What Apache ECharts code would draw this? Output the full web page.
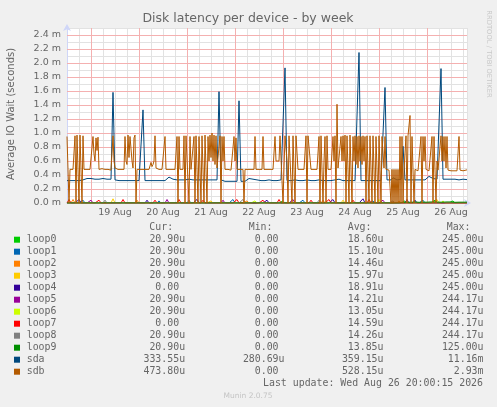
<!DOCTYPE html>
<html>
<head>
<meta charset="utf-8">
<title>Disk latency per device - by week</title>
<script src="https://cdn.jsdelivr.net/npm/echarts@6/dist/echarts.min.js"></script>
<style>
  html, body { margin: 0; padding: 0; background: #f0f0f0; }
  #chart { width: 497px; height: 407px; }
</style>
</head>
<body>
<div id="chart"></div>
<script>
// x axis: hours since 18 Aug 00:00
const startHour = 12;
const endHour = 212;
const dayLabels = ['19 Aug', '20 Aug', '21 Aug', '22 Aug', '23 Aug', '24 Aug', '25 Aug', '26 Aug'];
const dayLabelHours = [36, 60, 84, 108, 132, 156, 180, 204];
const dayStartHours = [24, 48, 72, 96, 120, 144, 168, 192];
const majorYTicks = [0.2, 0.4, 0.6, 0.8, 1.0, 1.2, 1.4, 1.6, 1.8, 2.0, 2.2, 2.4];

// values in milliseconds; sda one sample per hour
const sdaStep = 1;
const sda = [
  0.32, 0.32, 0.32, 0.32, 0.32, 0.32, 0.32, 0.32, 0.33, 0.35,
  0.35, 0.34, 0.35, 0.34, 0.34, 0.35, 0.34, 0.34, 0.35, 0.34,
  0.34, 0.33, 0.34, 1.58, 0.33, 0.32, 0.32, 0.33, 0.32, 0.32,
  0.32, 0.33, 0.32, 0.32, 0.32, 0.33, 0.32, 0.32, 1.33, 0.32,
  0.32, 0.32, 0.33, 0.32, 0.32, 0.32, 0.31, 0.32, 0.32, 0.32,
  0.33, 0.37, 0.36, 0.34, 0.33, 0.33, 0.34, 0.33, 0.33, 0.33,
  0.33, 0.34, 0.33, 0.33, 0.33, 0.33, 0.34, 0.33, 0.33, 0.33,
  0.33, 0.33, 0.33, 0.33, 0.33, 0.33, 1.59, 0.33, 0.31, 0.31,
  0.31, 0.31, 0.31, 0.31, 0.32, 0.31, 1.46, 0.31, 0.31, 0.31,
  0.31, 0.35, 0.34, 0.34, 0.33, 0.33, 0.32, 0.32, 0.33, 0.32,
  0.32, 0.33, 0.32, 0.32, 0.33, 0.32, 0.32, 0.33, 0.32, 1.93,
  0.32, 0.33, 0.32, 0.32, 0.33, 0.32, 0.32, 0.33, 0.32, 0.32,
  0.33, 0.32, 0.32, 0.33, 0.32, 0.32, 0.33, 0.32, 0.32, 0.33,
  0.32, 0.33, 0.32, 0.32, 0.33, 0.35, 0.34, 0.33, 0.32, 0.33,
  0.32, 0.33, 0.32, 0.33, 0.32, 0.33, 2.15, 0.32, 0.33, 0.32,
  0.33, 0.32, 0.33, 0.32, 0.33, 0.32, 0.33, 0.32, 0.33, 1.65,
  0.33, 0.32, 0.33, 0.36, 0.35, 0.33, 0.33, 0.34, 0.81, 0.33,
  0.33, 0.33, 0.34, 0.33, 0.33, 0.33, 0.34, 0.33, 0.33, 0.33,
  0.34, 0.38, 0.37, 0.35, 0.34, 0.34, 0.34, 1.92, 0.34, 0.34,
  0.34, 0.34, 0.34, 0.34, 0.34, 0.34, 0.33, 0.34, 0.34, 0.33,
  0.334
];

// sdb one sample per half hour (each line = 10 hours)
const sdbStep = 0.5;
const sdb = [
  0.95, 0.95, 0, 0.48, 0.48, 0.48, 0.48, 0.48, 0.96, 0, 0.97, 0.96, 0, 0.97, 0.96, 0, 0.96, 0.48, 0.48, 0.48,
  0.48, 0.47, 0.47, 0.48, 0.48, 0.48, 0.95, 0.7, 0.6, 0.93, 0.75, 0.94, 0.48, 0.48, 0.48, 0.49, 0.49, 0.48, 0.48, 0.48,
  0.48, 0.48, 0.48, 0.47, 0.47, 0.48, 0.96, 0.6, 0.5, 0.48, 0.48, 0.48, 0.48, 0.49, 0.48, 0.48, 0.49, 0.48, 0.95, 0.6,
  0.55, 0.97, 0.65, 0.95, 0.93, 0.6, 0.5, 0.93, 0.97, 0, 0.48, 0.48, 0.48, 0.48, 0.48, 0.47, 0.48, 0.48, 0.48, 0.48,
  0.48, 0.48, 0.48, 0.49, 0.58, 0.52, 0.55, 0.6, 0.96, 0.5, 0.48, 0.48, 0.48, 0.48, 0.49, 0.48, 0.48, 0.5, 0.95, 0.48,
  0.48, 0.48, 0.48, 0.47, 0.47, 0.48, 0.48, 0.48, 0.48, 0.48, 0.95, 0, 0.95, 0.48, 0.48, 0.48, 0.48, 0.96, 0, 0.96,
  0.96, 0.96, 0, 0.95, 0.48, 0.48, 0.48, 0.95, 0, 0.96, 0.96, 0, 0.95, 0.97, 0, 0.96, 0.95, 0, 0.97, 0.97,
  0, 0.95, 0.6, 0.97, 0.65, 1.0, 0.6, 0.97, 0.55, 0.96, 0.5, 0.48, 0.48, 0.96, 0, 0.95, 0.6, 0.95, 0.48, 0.48,
  0.48, 0.48, 0.48, 0.48, 0.47, 0.48, 0.48, 0.95, 0.6, 0.93, 0.48, 0.48, 0.48, 0.48, 0.48, 0.48, 0.48, 0, 0.48, 0.48,
  0.48, 0.48, 0.47, 0.48, 0.48, 0.47, 0.48, 0.48, 0.95, 0.48, 0.48, 0.48, 0.48, 0.47, 0.48, 0.48, 0.95, 0.48, 0.47, 0.48,
  0.48, 0.47, 0.48, 0.48, 0.48, 0.47, 0.48, 0.48, 0.95, 0.6, 0.6, 0.58, 0.6, 0.96, 0.97, 0.96, 0, 0.5, 0.96, 0.95,
  0.6, 0, 0.96, 0.95, 0.97, 0, 0.96, 0.96, 0, 0.96, 0.95, 0.48, 0.48, 0.48, 0.48, 0.48, 0.48, 0.48, 0.5, 0.96,
  0, 0.96, 0.96, 0.95, 0.48, 0.48, 0.48, 0.48, 0.48, 0.48, 0.48, 0.49, 0.95, 0, 0.96, 0.96, 0, 0.6, 0.95, 0,
  0.96, 0.48, 0.48, 0.48, 0.48, 0.48, 0.95, 0.6, 0.96, 0, 1.41, 0.5, 0.48, 0.48, 0.95, 0.6, 0.96, 0.6, 0.97, 0,
  0.96, 0.96, 0, 0.97, 0.96, 0, 0.95, 0.6, 0.96, 0.55, 0.95, 0.5, 0.96, 0.6, 0.95, 0.55, 0.96, 0.6, 0.95, 0,
  0.96, 0.96, 0, 0.96, 0.97, 0, 0.96, 0.95, 0, 0.95, 0.97, 0, 0.96, 0.96, 0, 0.95, 0.96, 0.5, 0.95, 0.48,
  0.48, 0.48, 0.47, 0.48, 0, 0.48, 0, 0.48, 0, 0.48, 0, 0.48, 0, 0.95, 0, 0.95, 0, 0.47, 0.48, 0.96,
  0, 0.96, 0.96, 1.25, 0, 0.95, 0.95, 0, 0.48, 0.46, 0.46, 0.46, 0.46, 0.47, 0.95, 0, 0.95, 0.6, 0.95, 0.48,
  0.47, 0.46, 0.46, 0.47, 0.47, 0.95, 0, 0.95, 0.95, 0, 0.6, 0.47, 0.47, 0.46, 0.96, 0.6, 0.95, 0.6, 0.95, 0.5,
  0.95, 0.47, 0.46, 0.46, 0.46, 0.47, 0.46, 0.46, 0.47, 0.46, 0.46, 0.46, 0.95, 0.47, 0.46, 0.46, 0.46, 0.47, 0.47, 0.47,
  0.474
];

// loop devices: sparse [hour, value] blips, zero elsewhere
const loop0 = [[120, 0.03], [150, 0.02], [181, 0.03], [196, 0.04], [205, 0.03]];
const loop1 = [[20, 0.04], [58, 0.03], [95, 0.05], [130, 0.04], [165, 0.03], [190, 0.04]];
const loop2 = [[15, 0.05], [47, 0.04], [102, 0.03], [140, 0.04], [178, 0.03]];
const loop3 = [[35, 0.06], [84, 0.03], [150, 0.04], [197, 0.05]];
const loop4 = [[18, 0.05], [52, 0.04], [77, 0.05], [112, 0.04], [145, 0.05], [160, 0.06], [186, 0.04]];
const loop5 = [[24, 0.04], [62, 0.05], [90, 0.04], [125, 0.05], [170, 0.04], [182, 0.05]];
const loop6 = [[106, 0.03], [168, 0.05], [200, 0.03]];
const loop7 = [[13, 0.05], [28, 0.04], [40, 0.05], [56, 0.04], [68, 0.05], [80, 0.04], [97, 0.05],
  [110, 0.04], [118, 0.05], [134, 0.04], [143, 0.05], [155, 0.04], [163, 0.05]];
const loop8 = [[31, 0.04], [73, 0.04], [100, 0.05], [138, 0.04], [175, 0.03]];
const loop9 = [[180, 0.01], [181, 0.015], [182, 0.012], [183, 0.015], [184, 0.01], [185, 0.012],
  [186, 0.015], [187, 0.012], [188, 0.01], [189, 0.015], [190, 0.012], [191, 0.015], [192, 0.012],
  [193, 0.01], [194, 0.015], [195, 0.012], [196, 0.015], [197, 0.01], [198, 0.012], [199, 0.015],
  [200, 0.012], [201, 0.01], [202, 0.015], [203, 0.012], [204, 0.015], [205, 0.012], [206, 0.01],
  [207, 0.015], [208, 0.012], [209, 0.015], [210, 0.012], [211, 0.01], [212, 0.012]];

const names = ['loop0', 'loop1', 'loop2', 'loop3', 'loop4', 'loop5', 'loop6', 'loop7', 'loop8', 'loop9', 'sda', 'sdb'];
const colors = ['#00cc00', '#0066b3', '#ff8000', '#ffcc00', '#330099', '#990099', '#ccff00', '#ff0000',
  '#808080', '#008f00', '#00487d', '#b35a00'];
const curVals = ['20.90u', '20.90u', '20.90u', '20.90u', '0.00', '20.90u', '20.90u', '0.00', '20.90u', '20.90u', '333.55u', '473.80u'];
const minVals = ['0.00', '0.00', '0.00', '0.00', '0.00', '0.00', '0.00', '0.00', '0.00', '0.00', '280.69u', '0.00'];
const avgVals = ['18.60u', '15.10u', '14.46u', '15.97u', '18.91u', '14.21u', '13.05u', '14.59u', '14.26u', '13.85u', '359.15u', '528.15u'];
const maxVals = ['245.00u', '245.00u', '245.00u', '245.00u', '245.00u', '244.17u', '244.17u', '244.17u', '244.17u', '125.00u', '11.16m', '2.93m'];

function toPoints(vals, step) {
    return vals.map((v, i) => [startHour + i * step, v]);
}

function blipsToPoints(blips) {
    const vals = sda.map(() => 0);
    blips.forEach(([h, v]) => { vals[h - startHour] = v; });
    return toPoints(vals, sdaStep);
}

const loops = [loop0, loop1, loop2, loop3, loop4, loop5, loop6, loop7, loop8, loop9];
const seriesData = loops.map(blipsToPoints).concat([toPoints(sda, sdaStep), toPoints(sdb, sdbStep)]);

const chart = echarts.init(document.getElementById('chart'));

const FONT = '"DejaVu Sans", sans-serif';
const MONO = '"DejaVu Sans Mono", monospace';
const TXT = '#666666';
const AXIS = '#cfd6f8';
const MGRID = '#f4b0b0';
const GRID = '#e2e2e2';

// legend table (rrdtool style)
const cw = 5.97;
const colRight = [185.1, 284.5, 383.5, 483.5];
const graphics = [];
function txt(x, y, text, opts) {
    graphics.push({
        type: 'text', x: x, y: y, silent: true,
        style: Object.assign({ text: text, fill: TXT, font: '9.9px ' + MONO, textVerticalAlign: 'middle' }, opts || {})
    });
}
txt(149.3, 227.3, 'Cur:');
txt(248.7, 227.3, 'Min:');
txt(347.7, 227.3, 'Avg:');
txt(446.7, 227.3, 'Max:');
names.forEach((n, k) => {
    const y = 239.7 + 12 * k;
    graphics.push({ type: 'rect', silent: true, shape: { x: 14, y: y - 3, width: 6, height: 6 }, style: { fill: colors[k] } });
    txt(26.7, y, n);
    [curVals[k], minVals[k], avgVals[k], maxVals[k]].forEach((v, c) => {
        const hasUnit = /[a-z]$/i.test(v);
        txt(colRight[c] - (hasUnit ? 0 : cw), y, v, { textAlign: 'right' });
    });
});
txt(483, 383.3, 'Last update: Wed Aug 26 20:00:15 2026', { textAlign: 'right' });
graphics.push({ type: 'text', x: 248, y: 395.7, silent: true,
    style: { text: 'Munin 2.0.75', fill: '#c4c4c4', font: '7.5px ' + FONT, textAlign: 'center', textVerticalAlign: 'middle' } });
// title, axis name, watermark
graphics.push({ type: 'text', x: 248, y: 19, silent: true,
    style: { text: 'Disk latency per device - by week', fill: TXT, font: '12.5px ' + FONT, textAlign: 'center', textVerticalAlign: 'middle' } });
graphics.push({ type: 'text', x: 11, y: 114, rotation: Math.PI / 2, silent: true,
    style: { text: 'Average IO Wait (seconds)', fill: TXT, font: '10px ' + FONT, textAlign: 'center', textVerticalAlign: 'middle' } });
graphics.push({ type: 'text', x: 489, y: 54, rotation: -Math.PI / 2, silent: true,
    style: { text: 'RRDTOOL / TOBI OETIKER', fill: '#c8c8c8', font: '6.8px ' + FONT, textAlign: 'center', textVerticalAlign: 'middle' } });

// major (day / 0.2 m) grid lines, drawn as markLines on an empty series under the data
const majorGrid = {
    name: 'major-grid',
    type: 'line',
    data: [],
    silent: true,
    z: 1,
    markLine: {
        silent: true,
        symbol: ['none', 'none'],
        label: { show: false },
        animation: false,
        lineStyle: { color: MGRID, type: 'solid', width: 1 },
        data: dayStartHours.map(h => ({ xAxis: h })).concat(majorYTicks.map(v => ({ yAxis: v })))
    }
};

const option = {
    backgroundColor: '#f0f0f0',
    animation: false,
    grid: { left: 67, right: 30, top: 28, bottom: 204, backgroundColor: '#ffffff', show: true, borderWidth: 0 },
    xAxis: {
        type: 'value',
        min: startHour,
        max: endHour,
        interval: 6,
        axisLine: { lineStyle: { color: AXIS, width: 1 }, symbol: ['none', 'arrow'], symbolSize: [6, 7], symbolOffset: [0, 4] },
        axisTick: { show: false },
        axisLabel: {
            color: TXT, fontFamily: FONT, fontSize: 9.5, margin: 5,
            showMinLabel: false, showMaxLabel: false,
            formatter: function (v) {
                const k = dayLabelHours.indexOf(Math.round(v));
                return k >= 0 ? dayLabels[k] : '';
            }
        },
        splitLine: { show: true, lineStyle: { color: GRID, type: 'solid', width: 1 } }
    },
    yAxis: {
        type: 'value',
        min: 0,
        max: 2.5,
        interval: 0.1,
        axisLine: { show: true, lineStyle: { color: AXIS, width: 1 }, symbol: ['none', 'arrow'], symbolSize: [6, 7], symbolOffset: [0, 4] },
        axisTick: { show: false },
        axisLabel: {
            color: TXT, fontFamily: FONT, fontSize: 9.5, margin: 6,
            formatter: function (v) {
                const t = Math.round(v * 10);
                return t % 2 ? '' : (t / 10).toFixed(1) + ' m';
            }
        },
        splitLine: { show: true, lineStyle: { color: GRID, type: 'solid', width: 1 } }
    },
    series: [majorGrid].concat(names.map((n, k) => ({
        name: n,
        type: 'line',
        data: seriesData[k],
        showSymbol: false,
        symbol: 'none',
        lineStyle: { color: colors[k], width: 1 },
        itemStyle: { color: colors[k] },
        z: 2 + k
    }))),
    graphic: graphics
};

chart.setOption(option);
</script>
</body>
</html>
